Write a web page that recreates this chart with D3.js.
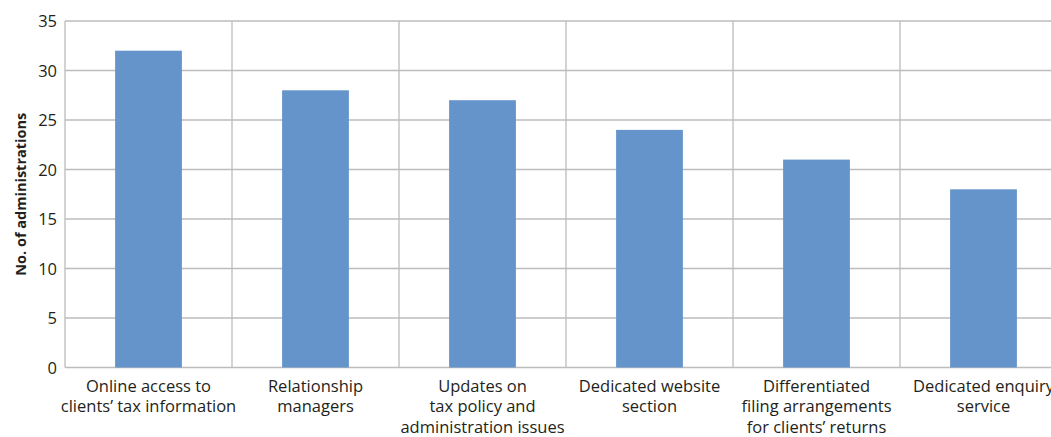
<!DOCTYPE html>
<html>
<head>
<meta charset="utf-8">
<script src="https://cdn.jsdelivr.net/npm/d3@7"></script>
<style>
  html, body { margin: 0; padding: 0; background: #fff; }
  svg { display: block; }
  text { font-family: "Open Sans", "Noto Sans", sans-serif; fill: #231f20; }
</style>
</head>
<body>
<svg id="chart" width="1051" height="437"></svg>
<script>
// Categories (each entry split into its label lines)
const categories = [
  ["Online access to", "clients\u2019 tax information"],
  ["Relationship", "managers"],
  ["Updates on", "tax policy and", "administration issues"],
  ["Dedicated website", "section"],
  ["Differentiated", "filing arrangements", "for clients\u2019 returns"],
  ["Dedicated enquiry", "service"]
];
const values = [32, 28, 27, 24, 21, 18];
const yTicks = [0, 5, 10, 15, 20, 25, 30, 35];
const yTitle = "No. of administrations";

const svg = d3.select("#chart");
const margin = { left: 65, top: 21, bottom: 69.5 };
const step = 167;
const plotW = step * categories.length;
const plotH = 437 - margin.top - margin.bottom;

const keys = categories.map((c, i) => i);
const x = d3.scaleBand().domain(keys).range([0, plotW]).paddingInner(0.6).paddingOuter(0.3);
const xBand = d3.scaleBand().domain(keys).range([0, plotW]);
const y = d3.scaleLinear().domain([0, 35]).range([plotH, 0]);

const g = svg.append("g").attr("transform", `translate(${margin.left},${margin.top})`);

// horizontal gridlines
g.append("g").selectAll("line").data(yTicks).join("line")
  .attr("x1", 0).attr("x2", plotW)
  .attr("y1", d => y(d)).attr("y2", d => y(d))
  .attr("stroke", "#bcbcbc").attr("stroke-width", 1.3);

// vertical category separators
g.append("g").selectAll("line").data(keys).join("line")
  .attr("x1", d => xBand(d)).attr("x2", d => xBand(d))
  .attr("y1", 0).attr("y2", plotH)
  .attr("stroke", "#bcbcbc").attr("stroke-width", 1.3);

// bars
g.append("g").selectAll("rect").data(values).join("rect")
  .attr("x", (d, i) => x(i))
  .attr("width", x.bandwidth())
  .attr("y", d => y(d))
  .attr("height", d => plotH - y(d))
  .attr("fill", "#6594cb");

// y axis labels
const yAxis = d3.axisLeft(y).tickValues(yTicks).tickSize(0).tickPadding(8);
const ya = g.append("g").call(yAxis);
ya.select(".domain").remove();
ya.selectAll("text").attr("font-size", 16.5).attr("font-family", "'Open Sans', sans-serif").attr("fill", "#231f20").attr("dy", "0.35em");

// category labels
const lab = g.append("g").selectAll("text").data(categories).join("text")
  .attr("text-anchor", "middle")
  .attr("font-size", 16.5)
  .attr("transform", (d, i) => `translate(${xBand(i) + xBand.bandwidth() / 2},${plotH + 24})`);
lab.selectAll("tspan").data(d => d).join("tspan")
  .attr("x", 0).attr("dy", (d, i) => i === 0 ? 0 : 20.5).text(d => d);

// y axis title
svg.append("text")
  .attr("transform", `translate(26,${margin.top + plotH / 2}) rotate(-90)`)
  .attr("text-anchor", "middle")
  .attr("font-size", 14.5)
  .attr("font-weight", "bold")
  .text(yTitle);
</script>
</body>
</html>
